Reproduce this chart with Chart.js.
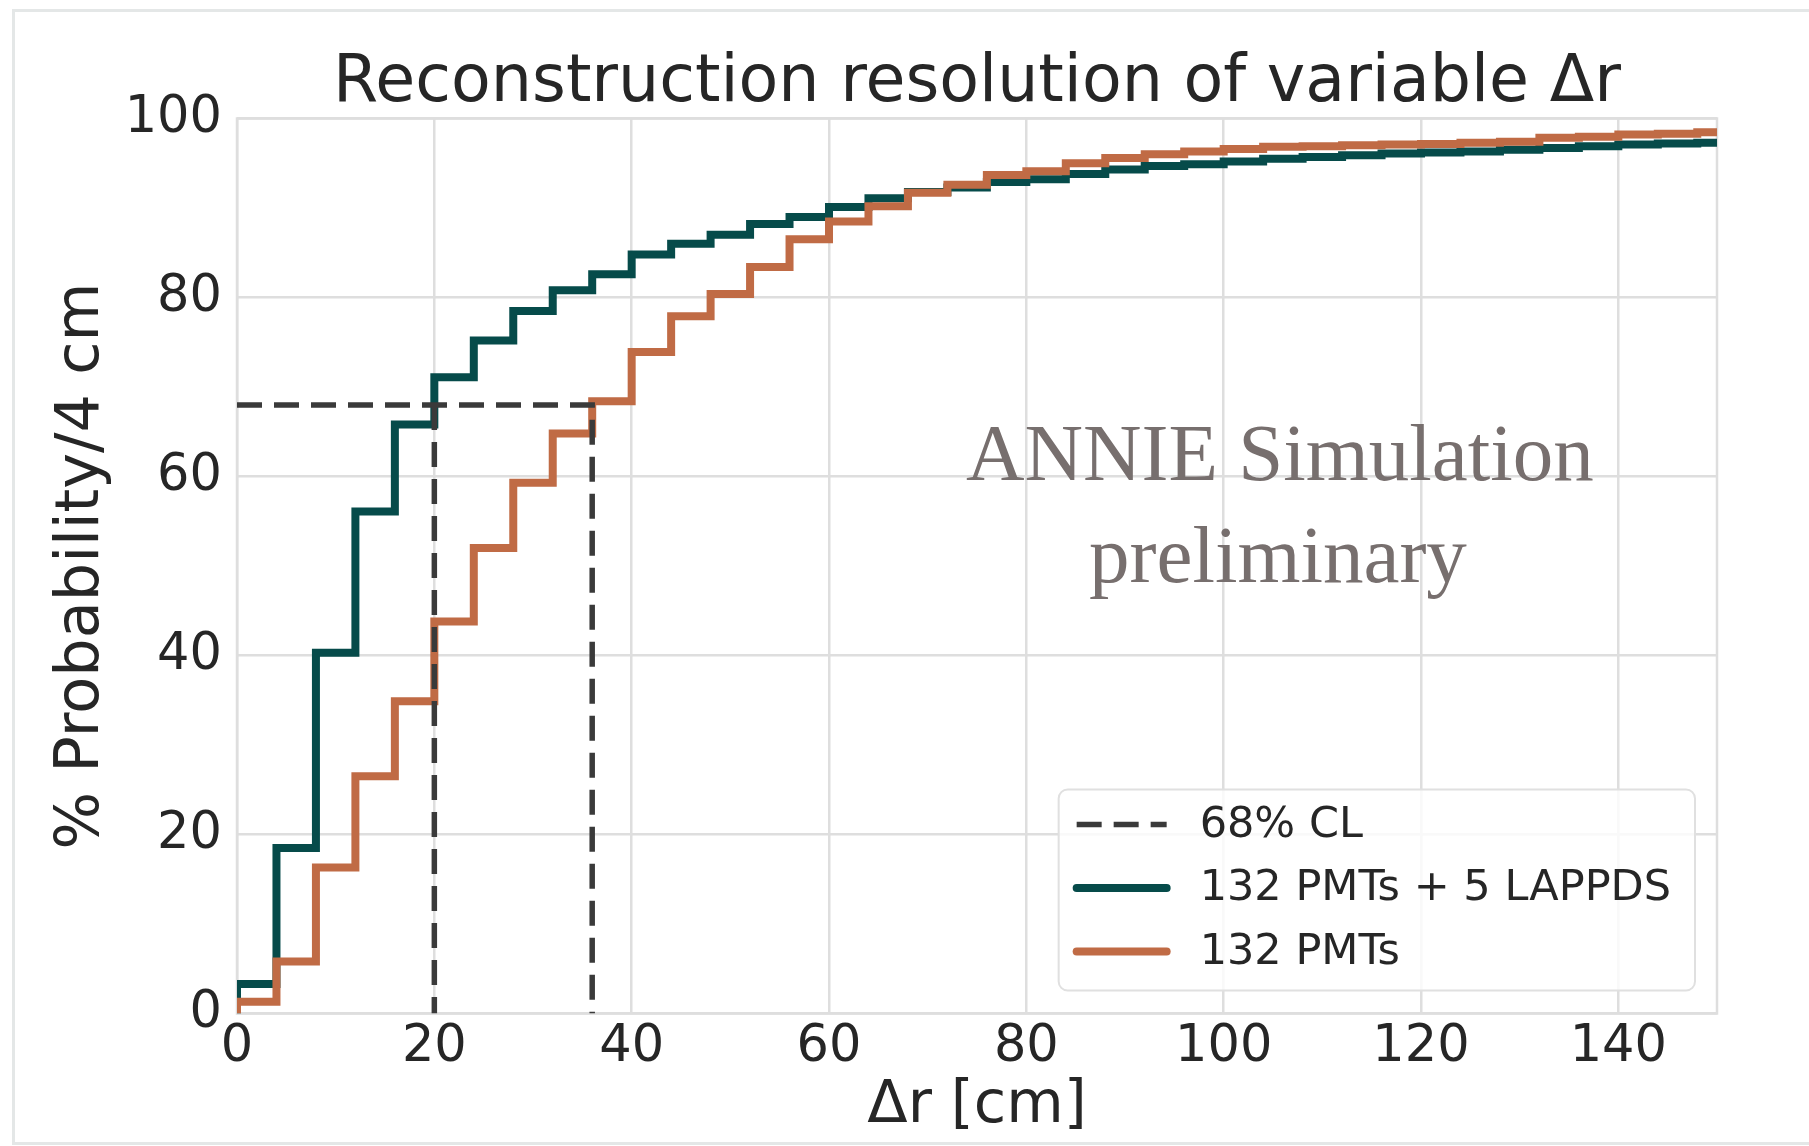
<!DOCTYPE html>
<html>
<head>
<meta charset="utf-8">
<script src="https://cdn.jsdelivr.net/npm/chart.js@4.4.1/dist/chart.umd.min.js"></script>
<style>
html, body { margin: 0; padding: 0; background: #fff; }
#wrap { position: relative; width: 1809px; height: 1146px; overflow: hidden; }
#frame { position: absolute; left: 12px; top: 9px; width: 1900px; height: 1130px; border: 3px solid #e4e7e7; pointer-events: none; }
</style>
</head>
<body>
<div id="wrap">
<canvas id="resChart" width="1809" height="1146"></canvas>
<div id="frame"></div>
</div>
<script>
const FONT = "'DejaVu Sans', sans-serif"
const TEXT_COLOR = '#262626'

// left edges of the 4 cm bins
const binEdges = [0, 4, 8, 12, 16, 20, 24, 28, 32, 36, 40, 44, 48, 52, 56, 60, 64, 68, 72, 76,
	80, 84, 88, 92, 96, 100, 104, 108, 112, 116, 120, 124, 128, 132, 136, 140, 144, 148]

// cumulative % per bin
const lappdValues = [3.3, 18.5, 40.3, 56.1, 65.8, 71.1, 75.2, 78.5, 80.8, 82.6, 84.8, 86.0, 87.0, 88.2, 89.0, 90.1, 91.1, 91.8, 92.3, 92.9,
	93.2, 93.8, 94.3, 94.7, 94.9, 95.2, 95.5, 95.7, 95.9, 96.1, 96.2, 96.3, 96.5, 96.7, 96.9, 97.1, 97.2, 97.3]
const pmtValues = [1.3, 5.8, 16.3, 26.5, 34.9, 43.8, 52.0, 59.3, 64.8, 68.4, 73.9, 77.9, 80.4, 83.4, 86.5, 88.5, 90.2, 91.7, 92.6, 93.7,
	94.1, 95.0, 95.6, 96.0, 96.3, 96.6, 96.85, 96.9, 97.0, 97.1, 97.15, 97.3, 97.4, 97.85, 97.95, 98.2, 98.3, 98.45]

// 68% CL markers
const clLevel = 68
const clLappd = 20
const clPmt = 36

const seriesNames = ['68% CL', '132 PMTs + 5 LAPPDS', '132 PMTs']
const xTickValues = [0, 20, 40, 60, 80, 100, 120, 140]
const yTickValues = [0, 20, 40, 60, 80, 100]
const xMax = 150
const yMax = 100

const watermark = ['ANNIE Simulation', 'preliminary']

function stepPoints(vals) {
	let pts = [{x: binEdges[0], y: 0}]
	vals.forEach((v, i) => pts.push({x: binEdges[i], y: v}))
	pts.push({x: xMax, y: vals[vals.length - 1]})
	return pts
}

let clPoints = [
	{x: 0, y: clLevel}, {x: clPmt, y: clLevel}, {x: clPmt, y: 0},
	{x: clLappd, y: null},
	{x: clLappd, y: clLevel}, {x: clLappd, y: 0}
]

// plot frame (light spines like the seaborn style)
const framePlugin = {
	id: 'framePlugin',
	beforeDatasetsDraw(chart) {
		let a = chart.chartArea, ctx = chart.ctx
		ctx.save()
		ctx.strokeStyle = '#dedede'
		ctx.lineWidth = 2.5
		ctx.strokeRect(a.left, a.top, a.right - a.left, a.bottom - a.top)
		ctx.restore()
	}
}

// watermark + legend box in lower right
const overlayPlugin = {
	id: 'overlayPlugin',
	afterDatasetsDraw(chart) {
		let ctx = chart.ctx, a = chart.chartArea
		let xs = chart.scales.x, ys = chart.scales.y
		ctx.save()
		ctx.fillStyle = '#776f6e'
		ctx.font = "81px 'Liberation Serif', serif"
		ctx.textAlign = 'center'
		ctx.textBaseline = 'alphabetic'
		ctx.fillText(watermark[0], xs.getPixelForValue(105.7), ys.getPixelForValue(59.6))
		ctx.fillText(watermark[1], xs.getPixelForValue(105.5), ys.getPixelForValue(48.2))

		// legend
		ctx.font = '43px ' + FONT
		let textW = Math.max(...seriesNames.map(n => ctx.measureText(n).width))
		let w = textW + 165, h = 201
		let right = a.right - 22, bottom = a.bottom - 23
		let left = right - w, top = bottom - h
		ctx.beginPath()
		ctx.roundRect(left, top, w, h, 9)
		ctx.fillStyle = 'rgba(255,255,255,0.8)'
		ctx.fill()
		ctx.strokeStyle = '#e0e0e0'
		ctx.lineWidth = 2
		ctx.stroke()

		let dsets = chart.data.datasets
		seriesNames.forEach((name, i) => {
			let ds = dsets.find(d => d.label == name)
			let cy = top + 35 + i * 63.5
			ctx.beginPath()
			ctx.setLineDash(ds.borderDash || [])
			ctx.lineCap = ds.borderDash ? 'butt' : 'round'
			ctx.strokeStyle = ds.borderColor
			ctx.lineWidth = ds.borderWidth
			ctx.moveTo(left + 18, cy)
			ctx.lineTo(left + 108, cy)
			ctx.stroke()
			ctx.setLineDash([])
			ctx.fillStyle = TEXT_COLOR
			ctx.textAlign = 'left'
			ctx.textBaseline = 'middle'
			ctx.fillText(name, left + 141, cy + 1)
		})
		ctx.restore()
	}
}

let ctx1 = document.getElementById('resChart').getContext('2d')
var resChart = new Chart(ctx1, {
	type: 'line',
	data: {
		datasets: [{
			label: seriesNames[1],
			data: stepPoints(lappdValues),
			borderColor: '#064b4a',
			borderWidth: 8,
			stepped: 'before',
			order: 3
		}, {
			label: seriesNames[2],
			data: stepPoints(pmtValues),
			borderColor: '#c06b45',
			borderWidth: 8,
			stepped: 'before',
			order: 2
		}, {
			label: seriesNames[0],
			data: clPoints,
			borderColor: '#3a3a3a',
			borderWidth: 5.5,
			borderDash: [25, 12],
			order: 1
		}]
	},
	options: {
		responsive: false,
		animation: false,
		devicePixelRatio: 1,
		clip: 0,
		elements: {
			point: { radius: 0 },
			line: { tension: 0, borderCapStyle: 'butt', borderJoinStyle: 'miter', fill: false }
		},
		layout: { padding: { left: 0, right: 92, top: 0, bottom: 0 } },
		plugins: {
			legend: { display: false },
			tooltip: { enabled: false },
			title: {
				display: true,
				text: 'Reconstruction resolution of variable Δr',
				fullSize: false,
				color: TEXT_COLOR,
				font: { family: FONT, size: 65, weight: 'normal', lineHeight: 1 },
				padding: { top: 52, bottom: 1.5 }
			}
		},
		scales: {
			x: {
				type: 'linear',
				min: 0,
				max: xMax,
				afterBuildTicks: s => { s.ticks = xTickValues.map(v => ({value: v})) },
				afterFit: s => { s.height = 132.5 },
				grid: { color: '#dedede', lineWidth: 2.5, drawTicks: false },
				border: { display: false },
				ticks: { color: TEXT_COLOR, font: { family: FONT, size: 51 }, padding: 4, maxRotation: 0 },
				title: {
					display: true,
					text: 'Δr [cm]',
					color: TEXT_COLOR,
					font: { family: FONT, size: 59 },
					padding: { top: 0, bottom: 4 }
				}
			},
			y: {
				min: 0,
				max: yMax,
				afterBuildTicks: s => { s.ticks = yTickValues.map(v => ({value: v})) },
				afterFit: s => { s.width = 237 },
				grid: { color: '#dedede', lineWidth: 2.5, drawTicks: false },
				border: { display: false },
				ticks: { color: TEXT_COLOR, font: { family: FONT, size: 51 }, padding: 15 },
				title: {
					display: true,
					text: '% Probability/4 cm',
					color: TEXT_COLOR,
					font: { family: FONT, size: 60.5 },
					padding: { top: 46, bottom: 0 }
				}
			}
		}
	},
	plugins: [framePlugin, overlayPlugin]
})
</script>
</body>
</html>
